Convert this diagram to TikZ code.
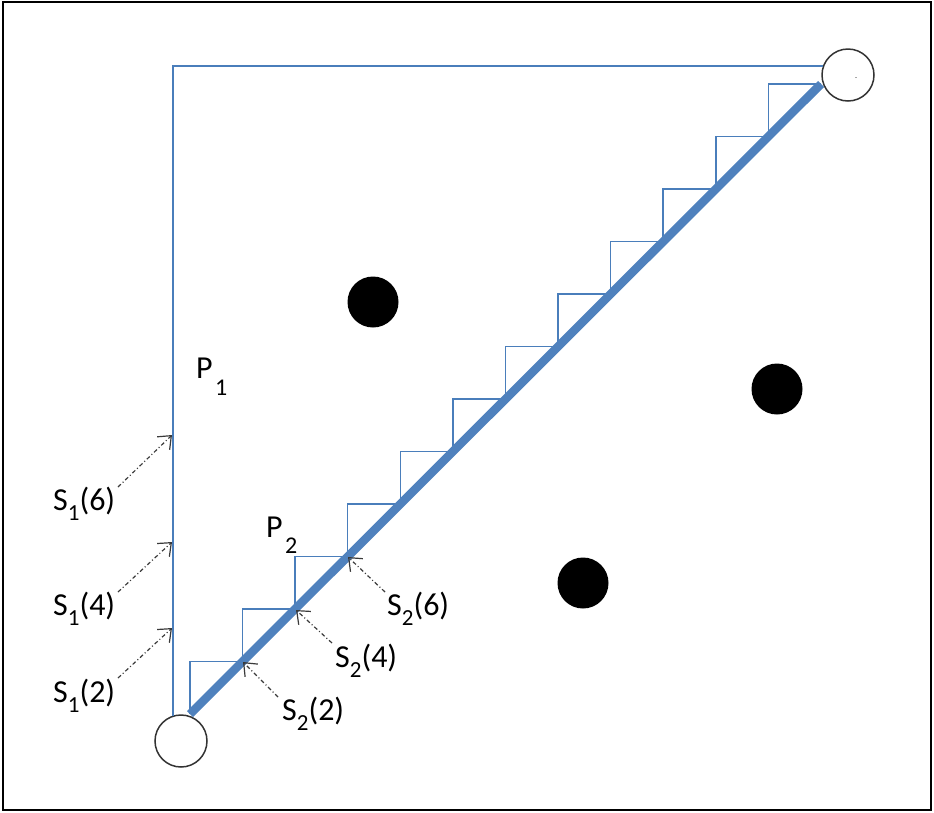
\documentclass[tikz,border=0pt]{standalone}
\usepackage{fontspec}
\setmainfont{Carlito}
\usetikzlibrary{arrows.meta}
\definecolor{pathblue}{HTML}{4F81BD}
\definecolor{thinblue}{HTML}{4A7EBB}
\definecolor{arrgray}{HTML}{3A3A3A}
\newcommand{\subone}[2]{#1\raisebox{-#2pt}{\fontsize{23}{23}\selectfont 1}}
\newcommand{\subtwo}[2]{#1\raisebox{-#2pt}{\fontsize{23}{23}\selectfont 2}}
\begin{document}
\begin{tikzpicture}[x=1pt,y=-1pt,
  lbl/.style={font=\fontsize{32}{32}\selectfont, text=black, inner sep=0pt, anchor=base west},
  endpt/.style={circle, draw=black!80, line width=1.5pt, minimum size=52pt, inner sep=0pt, fill=white},
  obst/.style={circle, fill=black, minimum size=51pt, inner sep=0pt},
  thinpath/.style={draw=thinblue, line width=1.5pt},
  thickpath/.style={draw=pathblue, line width=8.5pt},
  pointer/.style={draw=arrgray, line width=1.2pt, dash pattern=on 4pt off 2.5pt on 1pt off 2.5pt,
     -{Straight Barb[length=11pt,width=18pt,line width=1.2pt]}}]
\useasboundingbox (0,0) rectangle (934,812);
\draw[line width=2pt] (3,2) rectangle (931,810);

% end points
\node[endpt] (start) at (181,741) {};
\node[endpt] (goal) at (848,75) {};
\node[font=\fontsize{8}{8}\selectfont, inner sep=0pt] (goaldot) at (856,78) {.};

% obstacles
\node[obst] (o1) at (373,302) {};
\node[obst] (o2) at (777,389) {};
\node[obst] (o3) at (583,583) {};

% path P1
\coordinate (p1s) at (173,716);
\coordinate (p1e) at (823,66);
\draw[thinpath] (p1s) |- (p1e);

% path P2 (staircase) and straight line
\coordinate (a) at (190,714);
\coordinate (b) at (821,84);
\draw[thinpath] (a) \foreach \i in {1,...,12}{ -- ++(0,-52.5) -- ++(52.58,0) };
\draw[thickpath] (a) -- (b);

% labels P
\node[lbl] (P1) at (196,378) {P};
\node[lbl, font=\fontsize{24}{24}\selectfont] (P1s) at (215,395) {1};
\node[lbl] (P2) at (266,537) {P};
\node[lbl, font=\fontsize{24}{24}\selectfont] (P2s) at (285,553) {2};

% S1 labels and arrows
\node[lbl] (s16) at (53,510) {\subone{S}{10}(6)};
\node[lbl] (s14) at (53,615) {\subone{S}{10}(4)};
\node[lbl] (s12) at (53,702) {\subone{S}{10}(2)};
\coordinate (t16) at (172,435);
\coordinate (t14) at (172,542);
\coordinate (t12) at (172,628);
\coordinate (f16) at (118,487);
\coordinate (f14) at (118,592);
\coordinate (f12) at (118,678);
\draw[pointer] (f16) -- (t16);
\draw[pointer] (f14) -- (t14);
\draw[pointer] (f12) -- (t12);

% S2 labels and arrows
\node[lbl] (s26) at (387,615) {\subtwo{S}{10}(6)};
\node[lbl] (s24) at (335,667) {\subtwo{S}{10}(4)};
\node[lbl] (s22) at (282,720) {\subtwo{S}{10}(2)};
\coordinate (h26) at (348,557);
\coordinate (h24) at (296,610);
\coordinate (h22) at (243,662);
\coordinate (g26) at (385,592);
\coordinate (g24) at (332,643);
\coordinate (g22) at (278,697);
\draw[pointer] (g26) -- (h26);
\draw[pointer] (g24) -- (h24);
\draw[pointer] (g22) -- (h22);
\end{tikzpicture}
\end{document}
